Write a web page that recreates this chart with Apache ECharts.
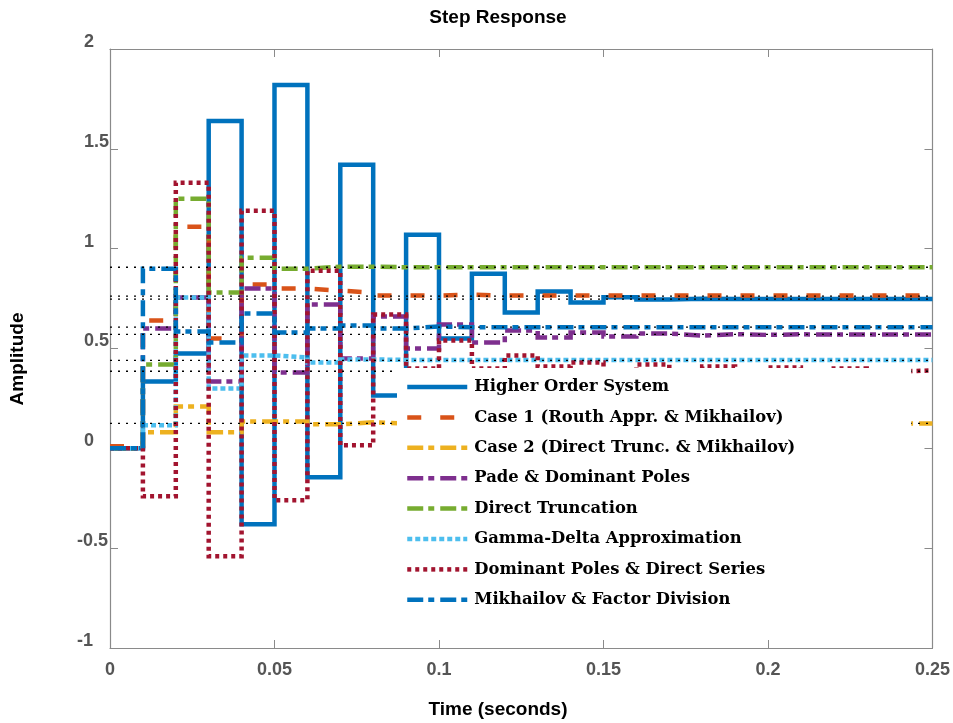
<!DOCTYPE html>
<html>
<head>
<meta charset="utf-8">
<script src="https://cdn.jsdelivr.net/npm/echarts@6/dist/echarts.min.js"></script>
<style>html,body{margin:0;padding:0;background:#fff}#c{width:953px;height:723px}</style>
</head>
<body>
<div id="c"></div>
<script>
const times = [0,0.01,0.02,0.03,0.04,0.05,0.06,0.07,0.08,0.09,0.10,0.11,0.12,0.13,0.14,0.15,0.16,0.17,0.18,0.19,0.20,0.21,0.22,0.23,0.24,0.25];
const seriesNames = ['Higher Order System','Case 1 (Routh Appr. & Mikhailov)','Case 2 (Direct Trunc. & Mikhailov)','Pade & Dominant Poles','Direct Truncation','Gamma-Delta Approximation','Dominant Poles & Direct Series','Mikhailov & Factor Division'];
const higherOrder = [0,0.335,0.475,1.64,-0.38,1.82,-0.145,1.42,0.265,1.07,0.55,0.875,0.68,0.785,0.73,0.757,0.746,0.749,0.748,0.748,0.748,0.748,0.748,0.748,0.748,0.748];
const case1 = [0.01,0.64,1.11,0.55,0.82,0.80,0.79,0.78,0.765,0.765,0.77,0.765,0.765,0.765,0.765,0.765,0.765,0.765,0.765,0.765,0.765,0.765,0.765,0.765,0.765,0.765];
const case2 = [0,0.08,0.21,0.08,0.135,0.135,0.12,0.13,0.125,0.125,0.125,0.125,0.125,0.125,0.125,0.125,0.125,0.125,0.125,0.125,0.125,0.125,0.125,0.125,0.125,0.125];
const pade = [0,0.60,0.755,0.335,0.80,0.38,0.72,0.45,0.66,0.50,0.62,0.53,0.59,0.555,0.58,0.56,0.575,0.565,0.572,0.568,0.571,0.57,0.57,0.57,0.57,0.57];
const directTrunc = [0,0.42,1.25,0.78,0.955,0.90,0.91,0.91,0.907,0.907,0.907,0.907,0.907,0.907,0.907,0.907,0.907,0.907,0.907,0.907,0.907,0.907,0.907,0.907,0.907,0.907];
const gammaDelta = [0,0.115,0.755,0.30,0.465,0.455,0.43,0.445,0.443,0.442,0.442,0.442,0.442,0.442,0.442,0.442,0.442,0.442,0.442,0.442,0.442,0.442,0.442,0.442,0.442,0.442];
const domPoles = [0,-0.24,1.33,-0.54,1.19,-0.26,0.89,0.015,0.67,0.40,0.54,0.40,0.465,0.41,0.43,0.37,0.42,0.37,0.41,0.38,0.405,0.38,0.40,0.385,0.39,0.39];
const mikhailov = [0,0.90,0.585,0.53,0.675,0.58,0.60,0.615,0.60,0.61,0.607,0.607,0.607,0.607,0.607,0.607,0.607,0.607,0.607,0.607,0.607,0.607,0.607,0.607,0.607,0.607];
const finalValues = [0.907,0.762,0.747,0.607,0.571,0.441,0.386,0.125];
const yTicks = [-1,-0.5,0,0.5,1,1.5,2];
const xTicks = [0,0.05,0.1,0.15,0.2,0.25];

const allValues = [higherOrder,case1,case2,pade,directTrunc,gammaDelta,domPoles,mikhailov];
const colors = ['#0072BD','#D95319','#EDB120','#7E2F8E','#77AC30','#4DBEEE','#A2142F','#0072BD'];
const dashDot = [16,5,6,6];
const styles = [
  {type:'solid', width:4.5},
  {type:[14,19], width:4.5},
  {type:dashDot, width:4.5},
  {type:dashDot, width:4.5},
  {type:dashDot, width:4.5},
  {type:[5,3], width:4.5},
  {type:[4,4], width:4.5},
  {type:dashDot, width:4.5}
];

const series = [];
allValues.forEach((vals,i)=>{
  series.push({
    name: seriesNames[i], type:'line', step:'end', symbol:'circle', symbolSize:0, showSymbol:false, z: 2 + i*0.01,
    data: times.map((t,k)=>[t, vals[k]]),
    lineStyle:{color:colors[i], width:styles[i].width, type:styles[i].type, cap:'butt', join:'miter'},
    itemStyle:{color:colors[i]},
    animation:false
  });
});
finalValues.forEach((v,i)=>{
  series.push({
    name:'ss'+i, type:'line', symbol:'none', z:3, silent:true,
    data:[[times[0],v],[times[times.length-1],v]],
    lineStyle:{color:'#000', width:1.3, type:[2,6]},
    animation:false
  });
});

const axisCol = '#8a8a8a';
const labelFont = {fontFamily:'Liberation Sans', fontWeight:'bold', fontSize:18, color:'#555'};
function mkAxisLine(){ return {onZero:false, lineStyle:{color:axisCol, width:1.2}}; }
function mkTick(){ return {inside:true, length:8, lineStyle:{color:axisCol}}; }
const chart = echarts.init(document.getElementById('c'), null, {renderer:'canvas'});
chart.setOption({
  animation:false,
  backgroundColor:'#fff',
  grid:{left:110, right:16, top:49, bottom:75, containLabel:false},
  xAxis:[
    {type:'value', min:0, max:0.25, interval:0.05, position:'bottom',
     axisLine:mkAxisLine(), axisTick:mkTick(),
     splitLine:{show:false}, axisLabel:Object.assign({margin:13, formatter:v=>String(+v.toFixed(2))}, labelFont)},
    {type:'value', min:0, max:0.25, interval:0.05, position:'top',
     axisLine:mkAxisLine(), axisTick:mkTick(),
     splitLine:{show:false}, axisLabel:{show:false}}
  ],
  yAxis:[
    {type:'value', min:-1, max:2, interval:0.5, position:'left',
     axisLine:mkAxisLine(), axisTick:mkTick(),
     splitLine:{show:false},
     axisLabel:{margin:35, align:'left', verticalAlign:'middle',
       formatter:v=>{const s=String(+v.toFixed(2)); return v<0 ? '{n|'+s+'}' : '{p|'+s+'}';},
       rich:{
         p:Object.assign({padding:[0,0,14,9]}, labelFont),
         n:Object.assign({padding:[0,0,14,2]}, labelFont)
       }}},
    {type:'value', min:-1, max:2, interval:0.5, position:'right',
     axisLine:mkAxisLine(), axisTick:mkTick(),
     splitLine:{show:false}, axisLabel:{show:false}}
  ],
  legend:{
    data: seriesNames, orient:'vertical', left:397, top:368,
    backgroundColor:'#fff', borderWidth:0,
    padding:[9,116,10,8], itemWidth:60, itemHeight:20, itemGap:10.4,
    itemStyle:{opacity:0, borderWidth:0},
    lineStyle:{width:4.5},
    textStyle:{fontFamily:'DejaVu Serif', fontWeight:'bold', fontSize:16.4, color:'#000', lineHeight:20, padding:[0,0,0,2]},
    selectedMode:false
  },
  graphic:[
    {type:'text', x:498, y:18, style:{text:'Step Response', fill:'#000', font:'bold 19px "Liberation Sans"', textAlign:'center', textVerticalAlign:'middle'}},
    {type:'text', x:498, y:710, style:{text:'Time (seconds)', fill:'#000', font:'bold 19px "Liberation Sans"', textAlign:'center', textVerticalAlign:'middle'}},
    {type:'text', x:18, y:359, rotation:Math.PI/2, style:{text:'Amplitude', fill:'#000', font:'bold 19px "Liberation Sans"', textAlign:'center', textVerticalAlign:'middle'}}
  ],
  series: series
});
</script>
</body>
</html>
